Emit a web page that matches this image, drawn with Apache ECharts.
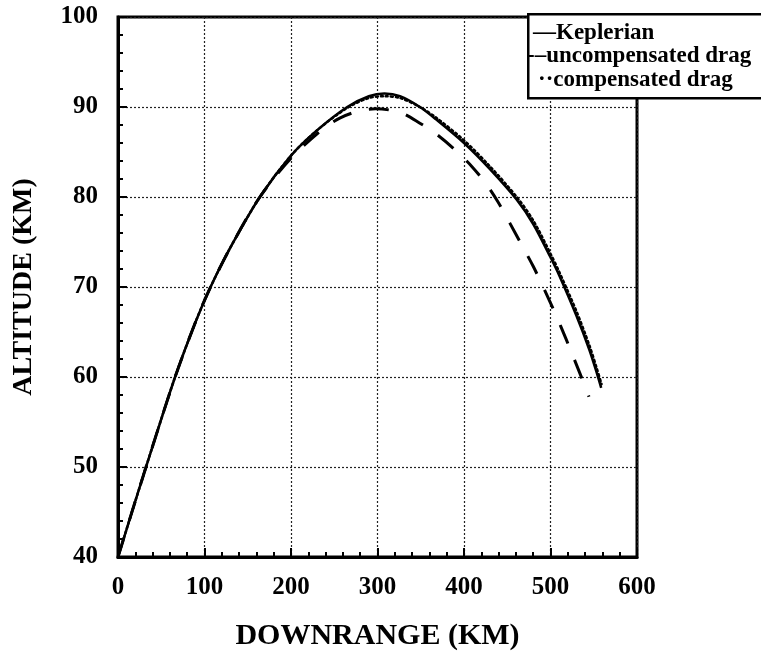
<!DOCTYPE html>
<html>
<head>
<meta charset="utf-8">
<script src="https://cdn.jsdelivr.net/npm/echarts@6/dist/echarts.min.js"></script>
<style>
  html, body { margin: 0; padding: 0; background: #fff; }
  #chart { width: 761px; height: 653px; }
</style>
</head>
<body>
<div id="chart"></div>
<script>
// downrange (km) / altitude (km)
const keplerX = [0, 20, 40, 66, 90, 107, 130, 164, 200, 230, 265, 290, 308, 326, 349, 368, 400, 430, 461, 480, 500, 510, 530, 545, 554, 558.6];
const keplerY = [40, 46.2, 52.3, 60, 66.2, 70, 74.4, 80, 84.6, 87.4, 90, 91.2, 91.5, 91.2, 90, 88.6, 86.0, 83.1, 79.7, 77.0, 73.3, 71.3, 66.8, 63.0, 60.3, 58.8];

const uncompX = [0, 20, 40, 66, 90, 107, 130, 164, 200, 236, 257, 280, 298, 326, 349, 368, 389, 409, 426, 439, 453, 466, 480, 491, 503, 512, 524, 534, 544.5];
const uncompY = [40, 46.2, 52.3, 60, 66.2, 70, 74.4, 80, 84.3, 87.5, 88.8, 89.6, 89.8, 89.4, 88.2, 87.0, 85.3, 83.4, 81.4, 79.5, 77.1, 74.8, 72.3, 70.1, 67.6, 65.6, 62.8, 60.4, 57.8];

const compX = [0, 20, 40, 66, 90, 107, 130, 164, 200, 230, 265, 290, 308, 326, 349, 368, 400, 430, 461, 480, 500, 510, 530, 545, 554, 559];
const compY = [40, 46.2, 52.3, 60, 66.2, 70, 74.4, 80, 84.6, 87.4, 89.9, 91.0, 91.2, 91.0, 90.0, 88.8, 86.3, 83.4, 80.0, 77.4, 73.7, 71.7, 67.3, 63.5, 60.8, 59.2];

const legendRows = ['\u2014Keplerian', '-\u2013uncompensated drag', '\u00b7\u00b7compensated drag'];

const pairs = (xs, ys) => xs.map((x, i) => [x, ys[i]]);
const serif = '"Liberation Serif", "DejaVu Serif", serif';

const chart = echarts.init(document.getElementById('chart'));

const option = {
  backgroundColor: '#fff',
  animation: false,
  grid: {
    left: 118, right: 124, top: 17, bottom: 96,
    outerBoundsMode: 'none',
    show: true, borderColor: '#000', borderWidth: 3
  },
  xAxis: {
    type: 'value', min: 0, max: 600, interval: 100,
    name: 'DOWNRANGE (KM)', nameLocation: 'middle', nameGap: 64,
    nameTextStyle: { fontFamily: serif, fontWeight: 'bold', fontSize: 30, color: '#000' },
    axisLine: { lineStyle: { color: '#000', width: 3 } },
    axisTick: { inside: true, length: 9, lineStyle: { color: '#000', width: 2 } },
    minorTick: { show: true, splitNumber: 5, length: 5, lineStyle: { color: '#000', width: 2 } },
    axisLabel: { fontFamily: serif, fontWeight: 'bold', fontSize: 25, color: '#000', margin: 18 },
    splitLine: { lineStyle: { color: '#222', width: 1.2, type: [2, 2] } }
  },
  yAxis: {
    type: 'value', min: 40, max: 100, interval: 10,
    name: 'ALTITUDE (KM)', nameLocation: 'middle', nameGap: 80,
    nameTextStyle: { fontFamily: serif, fontWeight: 'bold', fontSize: 28, color: '#000' },
    axisLine: { lineStyle: { color: '#000', width: 3 } },
    axisTick: { inside: true, length: 9, lineStyle: { color: '#000', width: 2 } },
    minorTick: { show: true, splitNumber: 5, length: 5, lineStyle: { color: '#000', width: 2 } },
    axisLabel: { fontFamily: serif, fontWeight: 'bold', fontSize: 25, color: '#000', margin: 20 },
    splitLine: { lineStyle: { color: '#222', width: 1.2, type: [2, 2] } }
  },
  series: [
    {
      name: 'compensated drag', type: 'line', showSymbol: false, smooth: 0.3,
      data: pairs(compX, compY),
      lineStyle: { color: '#000', width: 2.5, type: [2, 3], cap: 'round' }
    },
    {
      name: 'uncompensated drag', type: 'line', showSymbol: false, smooth: 0.3,
      data: pairs(uncompX, uncompY),
      lineStyle: { color: '#000', width: 3, type: [20, 18] }
    },
    {
      name: 'Keplerian', type: 'line', showSymbol: false, smooth: 0.3,
      data: pairs(keplerX, keplerY),
      lineStyle: { color: '#000', width: 2.5 }
    }
  ],
  graphic: [
    {
      type: 'rect', left: 527, top: 13, z: 100,
      shape: { width: 260, height: 84 },
      style: { fill: '#fff', stroke: '#000', lineWidth: 2.5 }
    },
    ...legendRows.map((t, i) => ({
      type: 'text', z: 101,
      x: [533, 527, 538][i], y: 33 + i * 23.5,
      style: {
        text: t, fill: '#000', fontFamily: serif, fontWeight: 'bold', fontSize: 23,
        verticalAlign: 'middle'
      }
    }))
  ]
};

chart.setOption(option);
</script>
</body>
</html>
